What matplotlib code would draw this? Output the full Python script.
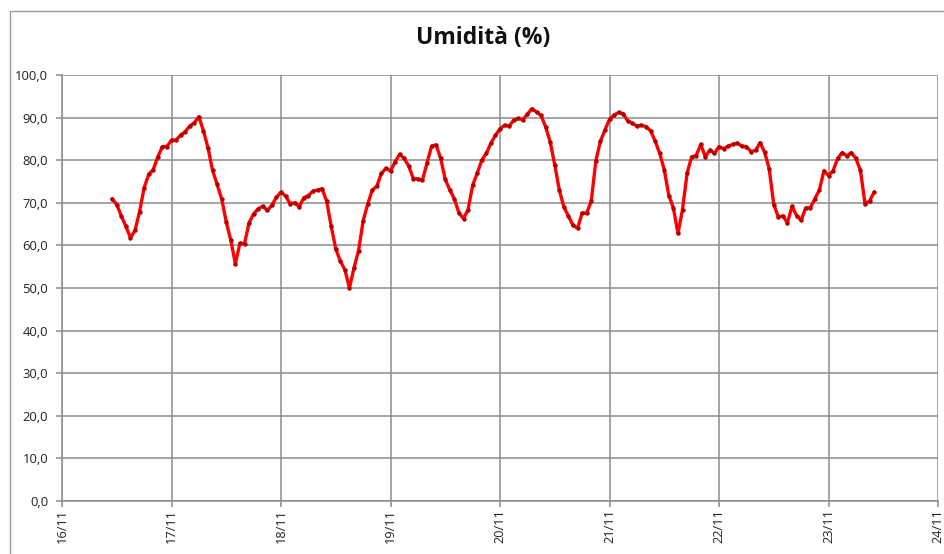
import matplotlib
matplotlib.use("Agg")
import matplotlib.pyplot as plt
from matplotlib.patches import Rectangle
import numpy as np

# Hours since 16/11 00:00
start_hour = 11
humidity = [
    70.9, 69.6, 66.9, 64.5, 61.8, 63.5, 67.9, 73.5, 76.7, 77.8, 80.8, 83.2, 83.2,
    84.7, 84.7, 85.9, 86.7, 88.0, 88.8, 90.2, 86.9, 82.9, 77.6, 74.3, 70.9, 65.5,
    61.2, 55.7, 60.5, 60.4, 65.3, 67.4, 68.6, 69.2, 68.2, 69.4, 71.3, 72.5, 71.6,
    69.8, 70.0, 69.1, 71.2, 71.7, 72.7, 73.0, 73.3, 70.4, 64.5, 59.2, 56.3, 54.3,
    50.0, 54.7, 58.8, 65.7, 69.7, 73.0, 73.9, 76.9, 78.1, 77.5, 79.6, 81.4, 80.4,
    78.6, 75.7, 75.6, 75.3, 79.3, 83.3, 83.6, 80.4, 75.5, 73.0, 70.9, 67.6, 66.3,
    68.4, 74.1, 76.9, 80.0, 81.6, 84.0, 85.8, 87.4, 88.2, 88.0, 89.4, 89.8, 89.5,
    90.8, 92.1, 91.3, 90.5, 87.8, 84.3, 78.9, 73.0, 69.0, 66.9, 64.7, 64.0, 67.6,
    67.6, 70.4, 79.8, 84.4, 87.1, 89.6, 90.6, 91.2, 90.9, 89.2, 88.7, 88.0, 88.2,
    87.9, 86.9, 84.5, 81.6, 77.8, 71.7, 68.8, 62.8, 68.4, 76.9, 80.8, 81.1, 83.7,
    80.8, 82.4, 81.6, 83.2, 82.7, 83.3, 83.7, 84.0, 83.3, 83.2, 82.0, 82.3, 84.1,
    81.9, 78.0, 69.6, 66.7, 66.9, 65.3, 69.2, 67.0, 65.9, 68.8, 68.8, 70.9, 73.0,
    77.5, 76.4, 77.5, 80.4, 81.8, 81.0, 81.8, 80.4, 77.6, 69.8, 70.4, 72.5,
]
hours = list(range(start_hour, start_hour + len(humidity)))

day_labels = ["16/11", "17/11", "18/11", "19/11", "20/11", "21/11", "22/11", "23/11", "24/11"]
y_ticks = [0, 10, 20, 30, 40, 50, 60, 70, 80, 90, 100]
title = "Umidità (%)"

fig = plt.figure(figsize=(9.44, 5.54), dpi=100)
fig.patch.set_facecolor("white")

# chart-area border (left and top visible)
fig.add_artist(Rectangle((10 / 944, -0.2), 2.0, 1.2 - 11 / 554,
                         transform=fig.transFigure, fill=False,
                         edgecolor="#9a9a9a", linewidth=1.0))

ax = fig.add_axes([62 / 944, 53 / 554, (938 - 62) / 944, (501 - 75) / 554])

x_days = np.array(hours) / 24.0
ax.plot(x_days, humidity, color="#FF0000", linewidth=2.4, zorder=3,
        marker="o", markersize=3.2, markerfacecolor="#B00000",
        markeredgecolor="#B00000", markeredgewidth=0)

ax.set_xlim(0, 8)
ax.set_ylim(0, 100)
ax.set_xticks(range(len(day_labels)))
ax.set_xticklabels(day_labels, rotation=90, fontsize=9.2, family="Open Sans", color="#222222")
ax.set_yticks(y_ticks)
ax.set_yticklabels([f"{v:.1f}".replace(".", ",") for v in y_ticks],
                   fontsize=9.4, family="Open Sans", color="#222222")

ax.grid(True, color="#8c8c8c", linewidth=1.1)
ax.set_axisbelow(True)
for side in ["top", "right"]:
    ax.spines[side].set_visible(False)
for side in ["left", "bottom"]:
    ax.spines[side].set_color("#8c8c8c")
    ax.spines[side].set_linewidth(1.1)
ax.tick_params(axis="both", color="#8c8c8c", length=4, width=1.1)
ax.tick_params(axis="y", pad=6)
ax.tick_params(axis="x", pad=2)

fig.text(483 / 944, 1 - 38 / 554, title, ha="center", va="center",
         fontsize=16.5, fontweight="bold", family="Open Sans", color="#111111")

fig.savefig("out.png", dpi=100, facecolor="white")
